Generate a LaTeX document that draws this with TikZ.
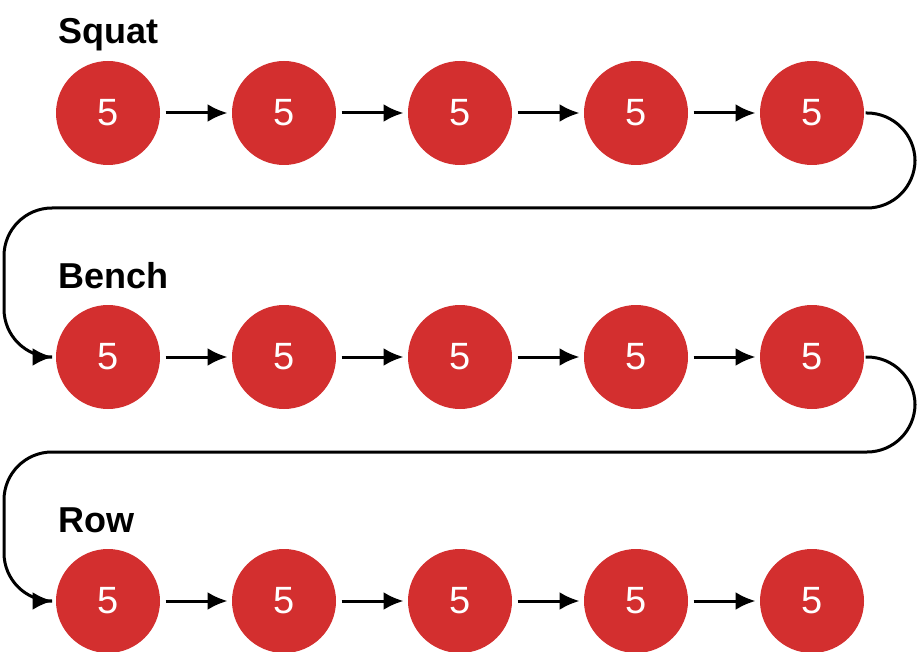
\documentclass[tikz,border=0pt]{standalone}
\usepackage{fontspec}
\setmainfont{Liberation Sans}
\usetikzlibrary{positioning,arrows.meta}
\definecolor{setred}{HTML}{D32F2F}
\tikzstyle{rep} = [circle, fill=setred, minimum size=104pt, inner sep=0pt, text=white, font={\fontsize{38pt}{40pt}\selectfont}]
\tikzstyle{lift} = [font={\fontsize{36pt}{40pt}\selectfont\bfseries}, anchor=base west, inner sep=0pt]

\begin{document}
\begin{tikzpicture}[x=1pt, y=-1pt, node distance=176pt, >={Latex[length=20pt,width=18pt]}, line width=3pt]
    \useasboundingbox (0,0) rectangle (920,652);
    % Squat
    \node [lift] (lsq) at (57,44) {Squat};
    \node [rep] (s1) at (108,113) {5};
    \node [rep, right of=s1] (s2) {5};
    \node [rep, right of=s2] (s3) {5};
    \node [rep, right of=s3] (s4) {5};
    \node [rep, right of=s4] (s5) {5};
    % Bench
    \node [lift] (lbe) at (57,288) {Bench};
    \node [rep] (b1) at (108,357) {5};
    \node [rep, right of=b1] (b2) {5};
    \node [rep, right of=b2] (b3) {5};
    \node [rep, right of=b3] (b4) {5};
    \node [rep, right of=b4] (b5) {5};
    % Row
    \node [lift] (lro) at (57,532) {Row};
    \node [rep] (r1) at (108,601) {5};
    \node [rep, right of=r1] (r2) {5};
    \node [rep, right of=r2] (r3) {5};
    \node [rep, right of=r3] (r4) {5};
    \node [rep, right of=r4] (r5) {5};
    \foreach \r in {s,b,r} {
        \foreach \i/\j in {1/2,2/3,3/4,4/5}
            \draw [->, shorten <=4pt, shorten >=3pt] (\r\i) -- (\r\j);
    }
    % turns
    \draw [->, rounded corners=48pt, shorten >=2pt] (s5.east) -| (915,208) -| (4,357) -- (b1.west);
    \draw [->, rounded corners=48pt, shorten >=2pt] (b5.east) -| (915,452) -| (4,601) -- (r1.west);
\end{tikzpicture}
\end{document}
